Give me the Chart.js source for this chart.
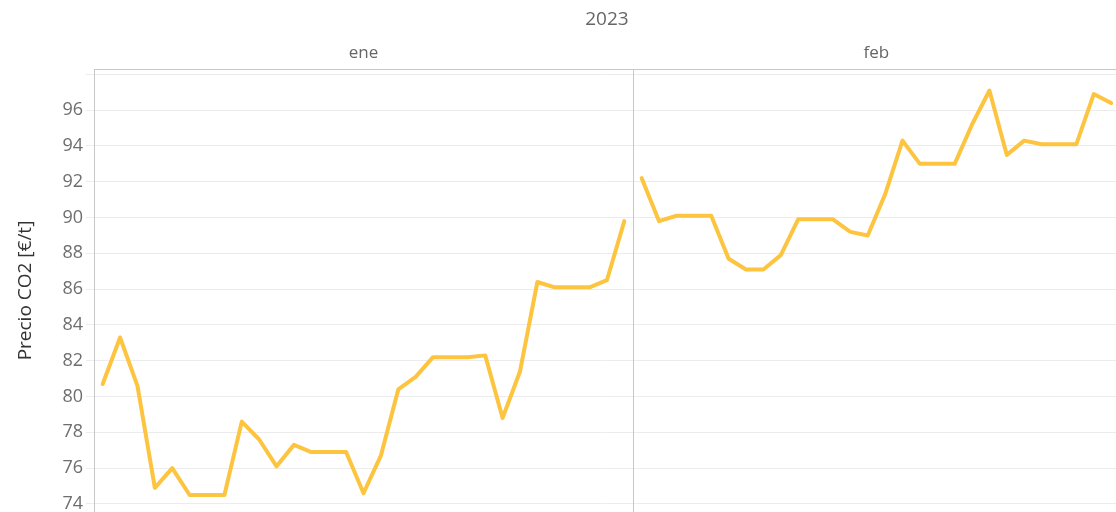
<!DOCTYPE html>
<html>
<head>
<meta charset="utf-8">
<script src="https://cdn.jsdelivr.net/npm/chart.js@4"></script>
<style>
  body { margin: 0; background: #fff; overflow: hidden; }
</style>
</head>
<body>
<canvas id="co2Chart" width="1116" height="512"></canvas>
<script>
// Precio diario CO2 (EUR/t), enero y febrero 2023
const year = '2023';
const months = ['ene', 'feb'];
const eneDays = [1,2,3,4,5,6,7,8,9,10,11,12,13,14,15,16,17,18,19,20,21,22,23,24,25,26,27,28,29,30,31];
const enePrices = [80.7, 83.3, 80.6, 74.9, 76.0, 74.5, 74.5, 74.5, 78.6, 77.6, 76.1, 77.3, 76.9, 76.9, 76.9, 74.6,
                   76.7, 80.4, 81.1, 82.2, 82.2, 82.2, 82.3, 78.8, 81.4, 86.4, 86.1, 86.1, 86.1, 86.5, 89.8];
const febDays = [1,2,3,4,5,6,7,8,9,10,11,12,13,14,15,16,17,18,19,20,21,22,23,24,25,26,27,28];
const febPrices = [92.2, 89.8, 90.1, 90.1, 90.1, 87.7, 87.1, 87.1, 87.9, 89.9, 89.9, 89.9, 89.2, 89.0,
                   91.3, 94.3, 93.0, 93.0, 93.0, 95.2, 97.1, 93.5, 94.3, 94.1, 94.1, 94.1, 96.9, 96.4];
const yTickLabels = [74, 76, 78, 80, 82, 84, 86, 88, 90, 92, 94, 96];

const lineColor = '#FDC440';
const fontFam = '"Open Sans", "Noto Sans", sans-serif';

// January slots 0..30, February slots 31..58 on one shared x scale
const eneData = eneDays.map(function (d, i) { return { x: d - 1, y: enePrices[i] }; });
const febData = febDays.map(function (d, i) { return { x: eneDays.length + d - 1, y: febPrices[i] }; });
const totalSlots = eneDays.length + febDays.length;

const panelPlugin = {
    id: 'panels',
    afterDraw: function (chart) {
        const c = chart.ctx;
        const area = chart.chartArea;
        const xs = chart.scales.x;
        const sep = xs.getPixelForValue(eneDays.length - 0.5);
        c.save();
        c.strokeStyle = '#c8c8c8';
        c.lineWidth = 1;
        c.beginPath();
        c.moveTo(area.left, area.top + 0.5);
        c.lineTo(area.right, area.top + 0.5);
        c.moveTo(Math.round(sep) + 0.5, area.top);
        c.lineTo(Math.round(sep) + 0.5, area.bottom);
        c.stroke();

        c.fillStyle = '#666';
        c.textAlign = 'center';
        c.textBaseline = 'middle';
        c.font = '19px ' + fontFam;
        c.fillText(year, xs.getPixelForValue((totalSlots - 1) / 2), 20);
        c.font = '17px ' + fontFam;
        c.fillText(months[0], xs.getPixelForValue((eneDays.length - 1) / 2), 53);
        c.fillText(months[1], xs.getPixelForValue(eneDays.length + (febDays.length - 1) / 2), 53);
        c.restore();
    }
};

document.addEventListener('DOMContentLoaded', function () {
    const ctx = document.getElementById('co2Chart').getContext('2d');
    new Chart(ctx, {
        type: 'line',
        data: {
            datasets: [{
                label: months[0],
                data: eneData,
                borderColor: lineColor,
                borderWidth: 4,
                pointRadius: 0,
                borderJoinStyle: 'round',
                borderCapStyle: 'round',
                tension: 0
            }, {
                label: months[1],
                data: febData,
                borderColor: lineColor,
                borderWidth: 4,
                pointRadius: 0,
                borderJoinStyle: 'round',
                borderCapStyle: 'round',
                tension: 0
            }]
        },
        options: {
            responsive: false,
            devicePixelRatio: 1,
            animation: false,
            layout: { padding: { top: 69, left: 0, right: 0, bottom: 0 } },
            plugins: {
                legend: { display: false },
                tooltip: { enabled: false }
            },
            scales: {
                x: {
                    type: 'linear',
                    display: false,
                    min: -0.5,
                    max: -0.5 + (1116 - 94) / ((633 - 94) / eneDays.length)
                },
                y: {
                    min: 73.55,
                    max: 98.3,
                    afterFit: function (scale) {
                        scale.width = 94;
                        scale.paddingTop = 0;
                        scale.paddingBottom = 0;
                    },
                    ticks: {
                        stepSize: 1,
                        includeBounds: false,
                        padding: 3,
                        color: '#6e6e6e',
                        font: { family: fontFam, size: 18 },
                        callback: function (v) { return yTickLabels.indexOf(v) >= 0 ? v : ''; }
                    },
                    grid: {
                        color: '#ececec',
                        tickLength: 8,
                        tickColor: '#ececec'
                    },
                    border: { color: '#c8c8c8' },
                    title: {
                        display: true,
                        text: 'Precio CO2 [€/t]',
                        color: '#333',
                        font: { family: fontFam, size: 19 },
                        padding: { top: 14, bottom: 0 }
                    }
                }
            }
        },
        plugins: [panelPlugin]
    });
});
</script>
</body>
</html>
